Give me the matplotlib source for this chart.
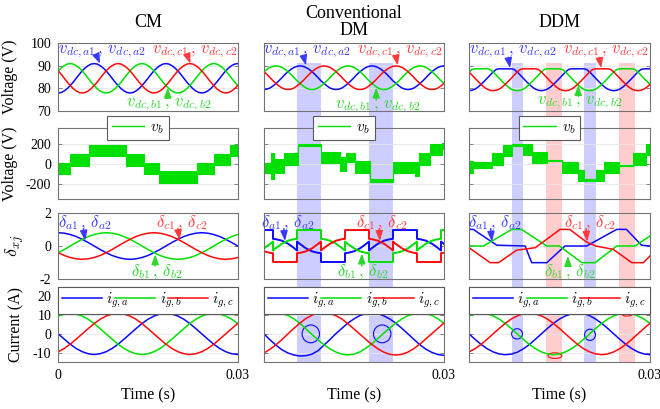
import matplotlib.pyplot as plt
import matplotlib.transforms as mtransforms
from matplotlib.lines import Line2D
from matplotlib.patches import Ellipse, Rectangle
import numpy as np

plt.rcParams['font.family'] = ['Liberation Serif', 'DejaVu Serif']
plt.rcParams['mathtext.fontset'] = 'cm'
plt.rcParams['axes.unicode_minus'] = False

BLUE, GREEN, RED = '#0a0aff', '#00e000', '#ff0a0a'
TBLUE, TGREEN, TRED = '#3a3aff', '#2bd92b', '#ff3b3b'
BAND = {'b': '#cdcdff', 'r': '#ffcdcd'}

# sample times in ms
t_half = np.linspace(0, 30, 61)
t_one = np.linspace(0, 30, 31)

# ---- dc-link capacitor voltages (V), 0.5 ms samples ----
cm_vdc_a = [78.0, 78.2, 78.9, 79.9, 81.3, 82.8, 84.5, 86.2, 87.8, 89.1, 90.1, 90.8, 91.0, 90.8, 90.1, 89.1, 87.8, 86.2, 84.5, 82.8, 81.3, 79.9, 78.9, 78.2,
            78.0, 78.2, 78.9, 79.9, 81.3, 82.8, 84.5, 86.2, 87.8, 89.1, 90.1, 90.8, 91.0, 90.8, 90.1, 89.1, 87.8, 86.2, 84.5, 82.8, 81.3, 79.9, 78.9, 78.2,
            78.0, 78.2, 78.9, 79.9, 81.3, 82.8, 84.5, 86.2, 87.8, 89.1, 90.1, 90.8, 91.0]
cm_vdc_b = [87.8, 89.1, 90.1, 90.8, 91.0, 90.8, 90.1, 89.1, 87.8, 86.2, 84.5, 82.8, 81.3, 79.9, 78.9, 78.2, 78.0, 78.2, 78.9, 79.9, 81.3, 82.8, 84.5, 86.2,
            87.8, 89.1, 90.1, 90.8, 91.0, 90.8, 90.1, 89.1, 87.8, 86.2, 84.5, 82.8, 81.3, 79.9, 78.9, 78.2, 78.0, 78.2, 78.9, 79.9, 81.3, 82.8, 84.5, 86.2,
            87.8, 89.1, 90.1, 90.8, 91.0, 90.8, 90.1, 89.1, 87.8, 86.2, 84.5, 82.8, 81.3]
cm_vdc_c = [87.8, 86.2, 84.5, 82.8, 81.3, 79.9, 78.9, 78.2, 78.0, 78.2, 78.9, 79.9, 81.3, 82.8, 84.5, 86.2, 87.8, 89.1, 90.1, 90.8, 91.0, 90.8, 90.1, 89.1,
            87.8, 86.2, 84.5, 82.8, 81.3, 79.9, 78.9, 78.2, 78.0, 78.2, 78.9, 79.9, 81.3, 82.8, 84.5, 86.2, 87.8, 89.1, 90.1, 90.8, 91.0, 90.8, 90.1, 89.1,
            87.8, 86.2, 84.5, 82.8, 81.3, 79.9, 78.9, 78.2, 78.0, 78.2, 78.9, 79.9, 81.3]

dm_vdc_a = [79.5, 79.7, 80.2, 81.1, 82.2, 83.4, 84.8, 86.2, 87.4, 88.5, 89.3, 89.8, 90.0, 89.8, 89.3, 88.5, 87.4, 86.2, 84.8, 83.4, 82.2, 81.1, 80.2, 79.7,
            79.5, 79.7, 80.2, 81.1, 82.2, 83.4, 84.8, 86.2, 87.4, 88.5, 89.3, 89.8, 90.0, 89.8, 89.3, 88.5, 87.4, 86.2, 84.8, 83.4, 82.2, 81.1, 80.2, 79.7,
            79.5, 79.7, 80.2, 81.1, 82.2, 83.4, 84.8, 86.2, 87.4, 88.5, 89.3, 89.8, 90.0]
dm_vdc_b = [87.4, 88.5, 89.3, 89.8, 90.0, 89.8, 89.3, 88.5, 87.4, 86.2, 84.8, 83.4, 82.2, 81.1, 80.2, 79.7, 79.5, 79.7, 80.2, 81.1, 82.2, 83.4, 84.8, 86.2,
            87.4, 88.5, 89.3, 89.8, 90.0, 89.8, 89.3, 88.5, 87.4, 86.2, 84.8, 83.4, 82.2, 81.1, 80.2, 79.7, 79.5, 79.7, 80.2, 81.1, 82.2, 83.4, 84.8, 86.2,
            87.4, 88.5, 89.3, 89.8, 90.0, 89.8, 89.3, 88.5, 87.4, 86.2, 84.8, 83.4, 82.2]
dm_vdc_c = [87.4, 86.2, 84.8, 83.4, 82.2, 81.1, 80.2, 79.7, 79.5, 79.7, 80.2, 81.1, 82.2, 83.4, 84.8, 86.2, 87.4, 88.5, 89.3, 89.8, 90.0, 89.8, 89.3, 88.5,
            87.4, 86.2, 84.8, 83.4, 82.2, 81.1, 80.2, 79.7, 79.5, 79.7, 80.2, 81.1, 82.2, 83.4, 84.8, 86.2, 87.4, 88.5, 89.3, 89.8, 90.0, 89.8, 89.3, 88.5,
            87.4, 86.2, 84.8, 83.4, 82.2, 81.1, 80.2, 79.7, 79.5, 79.7, 80.2, 81.1, 82.2]

ddm_vdc_a = [79.0, 79.2, 79.7, 80.6, 81.8, 83.1, 84.5, 85.9, 87.3, 88.4, 88.7, 88.7, 88.7, 88.7, 88.7, 88.4, 87.3, 85.9, 84.5, 83.1, 81.8, 80.6, 79.7, 79.2,
             79.0, 79.2, 79.7, 80.6, 81.8, 83.1, 84.5, 85.9, 87.3, 88.4, 88.7, 88.7, 88.7, 88.7, 88.7, 88.4, 87.3, 85.9, 84.5, 83.1, 81.8, 80.6, 79.7, 79.2,
             79.0, 79.2, 79.7, 80.6, 81.8, 83.1, 84.5, 85.9, 87.3, 88.4, 88.7, 88.7, 88.7]
ddm_vdc_b = [87.3, 88.4, 88.7, 88.7, 88.7, 88.7, 88.7, 88.4, 87.3, 85.9, 84.5, 83.1, 81.8, 80.6, 79.7, 79.2, 79.0, 79.2, 79.7, 80.6, 81.8, 83.1, 84.5, 85.9,
             87.3, 88.4, 88.7, 88.7, 88.7, 88.7, 88.7, 88.4, 87.3, 85.9, 84.5, 83.1, 81.8, 80.6, 79.7, 79.2, 79.0, 79.2, 79.7, 80.6, 81.8, 83.1, 84.5, 85.9,
             87.3, 88.4, 88.7, 88.7, 88.7, 88.7, 88.7, 88.4, 87.3, 85.9, 84.5, 83.1, 81.8]
ddm_vdc_c = [87.3, 85.9, 84.5, 83.1, 81.8, 80.6, 79.7, 79.2, 79.0, 79.2, 79.7, 80.6, 81.8, 83.1, 84.5, 85.9, 87.3, 88.4, 88.7, 88.7, 88.7, 88.7, 88.7, 88.4,
             87.3, 85.9, 84.5, 83.1, 81.8, 80.6, 79.7, 79.2, 79.0, 79.2, 79.7, 80.6, 81.8, 83.1, 84.5, 85.9, 87.3, 88.4, 88.7, 88.7, 88.7, 88.7, 88.7, 88.4,
             87.3, 85.9, 84.5, 83.1, 81.8, 80.6, 79.7, 79.2, 79.0, 79.2, 79.7, 80.6, 81.8]

# ---- bus voltage v_b: switching band between two levels (start ms, low V, high V) ----
cm_vb_t = [0, 2.0, 5.2, 11.3, 14.3, 16.8, 23.2, 26.0, 28.8]
cm_vb_lo = [-105, -20, 75, -20, -105, -190, -105, -15, 80]
cm_vb_hi = [5, 100, 185, 100, 10, -75, 5, 100, 190]

dm_vb_t = [0, 1.1, 1.7, 3.3, 5.65, 9.5, 12.7, 13.7, 15.2, 17.6, 21.5, 25.2, 25.8, 27.7, 29.6]
dm_vb_lo = [-95, -150, -90, -10, 172, 5, -75, 20, -90, -178, -90, -120, -10, 90, 150]
dm_vb_hi = [10, 110, 50, 110, 200, 115, 70, 105, 25, -152, 15, 15, 110, 200, 210]

ddm_vb_t = [0, 0.7, 3.8, 5.7, 7.1, 9.0, 10.4, 12.9, 15.4, 18.1, 19.0, 21.0, 22.3, 24.8, 27.2, 29.4]
ddm_vb_lo = [-90, -45, -10, 75, 175, 90, 5, 25, -90, -175, -170, -175, -90, -22, -10, 90]
ddm_vb_hi = [25, 15, 110, 190, 200, 200, 115, 40, 15, -60, -152, -60, 15, -10, 110, 200]

# ---- duty ratios delta_xj ----
cm_d_a = [0.80, 0.77, 0.69, 0.57, 0.40, 0.21, 0.00, -0.21, -0.40, -0.57, -0.69, -0.77, -0.80, -0.77, -0.69, -0.57,
          -0.40, -0.21, 0.00, 0.21, 0.40, 0.57, 0.69, 0.77, 0.80, 0.77, 0.69, 0.57, 0.40, 0.21, 0.00]
cm_d_b = [-0.40, -0.21, 0.00, 0.21, 0.40, 0.57, 0.69, 0.77, 0.80, 0.77, 0.69, 0.57, 0.40, 0.21, 0.00, -0.21,
          -0.40, -0.57, -0.69, -0.77, -0.80, -0.77, -0.69, -0.57, -0.40, -0.21, 0.00, 0.21, 0.40, 0.57, 0.69]
cm_d_c = [-0.40, -0.57, -0.69, -0.77, -0.80, -0.77, -0.69, -0.57, -0.40, -0.21, 0.00, 0.21, 0.40, 0.57, 0.69, 0.77,
          0.80, 0.77, 0.69, 0.57, 0.40, 0.21, 0.00, -0.21, -0.40, -0.57, -0.69, -0.77, -0.80, -0.77, -0.69]

dm_d_t = [0, 1, 1.5, 1.5, 2, 3, 4, 5, 5.5, 5.5, 6, 7, 8, 9, 9.5, 9.5, 10, 11, 12, 13, 13.5, 13.5, 14, 15,
          16, 17, 17.5, 17.5, 18, 19, 20, 21, 21.5, 21.5, 22, 23, 24, 25, 25.5, 25.5, 26, 27, 28, 29, 29.5, 29.5, 30]
dm_d_a = [0.96, 0.96, 0.96, 0.43, 0.41, 0.32, 0.14, -0.12, -0.27, 0.27, 0.12, -0.14, -0.32, -0.41, -0.43, -0.96,
          -0.96, -0.96, -0.96, -0.96, -0.96, -0.43, -0.41, -0.32, -0.14, 0.12, 0.27, -0.27, -0.12, 0.14, 0.32, 0.41,
          0.43, 0.96, 0.96, 0.96, 0.96, 0.96, 0.96, 0.43, 0.41, 0.32, 0.14, -0.12, -0.27, 0.27, 0.12]
dm_d_b = [-0.14, 0.12, 0.27, -0.27, -0.12, 0.14, 0.32, 0.41, 0.43, 0.96, 0.96, 0.96, 0.96, 0.96, 0.96, 0.43,
          0.41, 0.32, 0.14, -0.12, -0.27, 0.27, 0.12, -0.14, -0.32, -0.41, -0.43, -0.96, -0.96, -0.96, -0.96, -0.96,
          -0.96, -0.43, -0.41, -0.32, -0.14, 0.12, 0.27, -0.27, -0.12, 0.14, 0.32, 0.41, 0.43, 0.96, 0.96]
dm_d_c = [-0.32, -0.41, -0.43, -0.96, -0.96, -0.96, -0.96, -0.96, -0.96, -0.43, -0.41, -0.32, -0.14, 0.12, 0.27, -0.27,
          -0.12, 0.14, 0.32, 0.41, 0.43, 0.96, 0.96, 0.96, 0.96, 0.96, 0.96, 0.43, 0.41, 0.32, 0.14, -0.12,
          -0.27, 0.27, 0.12, -0.14, -0.32, -0.41, -0.43, -0.96, -0.96, -0.96, -0.96, -0.96, -0.96, -0.43, -0.41]

ddm_t_a = [0, 0.7, 4.6, 9.3, 10.4, 12.9, 15.9, 19.5, 24.5, 26.1, 28.6, 30]
ddm_d_a = [1.0, 1.0, 0.05, 0.0, -1.0, -1.0, 0.0, 0.0, 1.0, 1.0, 0.05, 0.0]
ddm_t_b = [0, 2.4, 7.1, 8.7, 12.9, 15.0, 18.7, 20.9, 24.5, 27.5, 30]
ddm_d_b = [0.0, 0.0, 1.0, 1.0, 0.0, 0.0, -1.0, -1.0, 0.0, 0.0, 0.6]
ddm_t_c = [0, 3.5, 4.9, 7.9, 11.0, 15.1, 16.7, 19.4, 21.0, 23.9, 27.0, 28.9, 30]
ddm_d_c = [-0.1, -1.0, -1.0, -0.25, -0.1, 1.0, 1.0, 0.26, 0.0, -0.2, -1.0, -1.0, -0.6]

# ---- grid currents (A), 1 ms samples ----
cm_ig_a = [0, -2.8, -5.5, -7.8, -9.5, -10.6, -11.0, -10.6, -9.5, -7.8, -5.5, -2.8, 0, 2.8, 5.5, 7.8,
           9.5, 10.6, 11.0, 10.6, 9.5, 7.8, 5.5, 2.8, 0, -2.8, -5.5, -7.8, -9.5, -10.6, -11.0]
cm_ig_b = [9.5, 10.6, 11.0, 10.6, 9.5, 7.8, 5.5, 2.8, 0, -2.8, -5.5, -7.8, -9.5, -10.6, -11.0, -10.6,
           -9.5, -7.8, -5.5, -2.8, 0, 2.8, 5.5, 7.8, 9.5, 10.6, 11.0, 10.6, 9.5, 7.8, 5.5]
cm_ig_c = [-9.5, -7.8, -5.5, -2.8, 0, 2.8, 5.5, 7.8, 9.5, 10.6, 11.0, 10.6, 9.5, 7.8, 5.5, 2.8,
           0, -2.8, -5.5, -7.8, -9.5, -10.6, -11.0, -10.6, -9.5, -7.8, -5.5, -2.8, 0, 2.8, 5.5]

dm_ig_a = [0, -3.2, -6.0, -8.5, -10.2, -11.3, -11.8, -11.6, -10.8, -9.0, -6.0, -3.0, 0.2, 3.0, 5.8, 8.0,
           9.8, 10.8, 11.1, 10.8, 9.6, 7.9, 5.6, 2.9, 0, -3.0, -5.8, -8.2, -9.9, -11.0, -11.5]
dm_ig_b = [10.2, 11.0, 11.2, 10.8, 9.8, 8.0, 5.6, 2.6, -0.3, -3.2, -5.8, -8.0, -9.7, -10.8, -11.2, -10.8,
           -9.6, -7.6, -5.2, -2.4, 0.5, 3.2, 5.8, 8.0, 9.7, 10.8, 11.2, 10.9, 9.8, 8.0, 5.6]
dm_ig_c = [-10.2, -8.2, -5.8, -3.0, 0, 3.0, 5.8, 8.2, 10.0, 11.0, 11.3, 10.9, 9.7, 7.9, 5.4, 2.6,
           -0.2, -3.0, -5.7, -8.0, -9.8, -10.9, -11.3, -10.9, -9.7, -7.8, -5.4, -2.6, 0.2, 3.0, 5.8]

ddm_ig_a = [0, -2.9, -5.6, -7.9, -9.6, -10.7, -11.1, -10.8, -9.8, -8.0, -5.7, -2.9, 0, 2.9, 5.6, 7.9,
            9.6, 10.7, 11.1, 10.8, 9.7, 7.9, 5.6, 2.9, 0, -2.9, -5.6, -7.9, -9.6, -10.7, -11.1]
ddm_ig_b = [9.6, 10.7, 11.1, 10.7, 9.6, 7.9, 5.6, 2.9, 0, -2.9, -5.6, -7.9, -9.6, -10.7, -11.1, -10.7,
            -9.6, -7.9, -5.6, -2.9, 0, 2.9, 5.6, 7.9, 9.6, 10.7, 11.1, 10.7, 9.6, 7.9, 5.6]
ddm_ig_c = [-9.6, -7.9, -5.6, -2.9, 0, 2.9, 5.6, 7.9, 9.6, 10.7, 11.1, 10.7, 9.6, 7.9, 5.6, 2.9,
            0, -2.9, -5.6, -7.9, -9.6, -10.7, -11.1, -10.7, -9.6, -7.9, -5.6, -2.9, 0, 2.9, 5.6]

# highlighted intervals (ms) and marked current regions (centre ms, centre A, width ms, height A)
dm_bands = [(5.5, 9.5, 'b'), (17.5, 21.5, 'b')]
ddm_bands = [(7.1, 8.95, 'b'), (12.76, 15.4, 'r'), (19.05, 21.05, 'b'), (24.9, 27.5, 'r')]
dm_marks = [(7.8, 0, 2.9, 9.5, BLUE), (19.7, 0, 2.9, 9.5, BLUE)]
ddm_marks = [(7.96, 0, 1.8, 5.5, BLUE), (20.06, -0.5, 1.8, 6, BLUE),
             (14.25, -11.6, 2.3, 3.0, RED), (26.2, 11.0, 2.0, 3.0, RED)]

titles = ['CM', 'Conventional\nDM', 'DDM']

vdc = [(cm_vdc_a, cm_vdc_b, cm_vdc_c), (dm_vdc_a, dm_vdc_b, dm_vdc_c), (ddm_vdc_a, ddm_vdc_b, ddm_vdc_c)]
vb = [(cm_vb_t, cm_vb_lo, cm_vb_hi), (dm_vb_t, dm_vb_lo, dm_vb_hi), (ddm_vb_t, ddm_vb_lo, ddm_vb_hi)]
duty = [((t_one, cm_d_a), (t_one, cm_d_b), (t_one, cm_d_c)),
        ((dm_d_t, dm_d_a), (dm_d_t, dm_d_b), (dm_d_t, dm_d_c)),
        ((ddm_t_a, ddm_d_a), (ddm_t_b, ddm_d_b), (ddm_t_c, ddm_d_c))]
igrid = [(cm_ig_a, cm_ig_b, cm_ig_c), (dm_ig_a, dm_ig_b, dm_ig_c), (ddm_ig_a, ddm_ig_b, ddm_ig_c)]
duty_lw = [1.1, 1.4, 1.1]

# label text positions (axes fraction) and arrows (tail, tip) in (ms, value)
v_notes = [
    [((0.244, 0.871), (6.4, 94.6), (7.0, 91.0)), ((0.617, 0.089), (18.3, 75.6), (18.3, 80.3)), ((0.762, 0.871), (21.6, 94.6), (22.1, 91.0))],
    [((0.239, 0.871), (6.6, 94.3), (7.0, 90.2)), ((0.633, 0.059), (18.7, 74.8), (18.7, 80.4)), ((0.756, 0.871), (22.0, 94.3), (22.3, 90.2))],
    [((0.243, 0.871), (6.5, 93.8), (6.8, 89.0)), ((0.613, 0.118), (18.1, 76.5), (18.1, 81.5)), ((0.757, 0.871), (21.6, 93.8), (21.9, 89.0))],
]
d_notes = [
    [((0.149, 0.86), (4.2, 1.05), (4.5, 0.32)), ((0.55, 0.11), (16.2, -1.2), (16.2, -0.5)), ((0.69, 0.86), (20.0, 1.05), (20.3, 0.36))],
    [((0.133, 0.86), (3.3, 1.05), (3.5, 0.3)), ((0.55, 0.11), (16.3, -1.2), (16.3, -0.45)), ((0.656, 0.86), (19.2, 1.05), (19.3, 0.3))],
    [((0.144, 0.86), (3.6, 1.05), (3.8, 0.26)), ((0.558, 0.11), (16.4, -1.25), (16.4, -0.6)), ((0.668, 0.86), (19.4, 1.05), (19.6, 0.26))],
]
v_labels = [r'$v_{dc,a1}\,,\,v_{dc,a2}$', r'$v_{dc,b1}\,,\,v_{dc,b2}$', r'$v_{dc,c1}\,,\,v_{dc,c2}$']
d_labels = [r'$\delta_{a1}\,,\,\delta_{a2}$', r'$\delta_{b1}\,,\,\delta_{b2}$', r'$\delta_{c1}\,,\,\delta_{c2}$']

colors = [BLUE, GREEN, RED]
tcolors = [TBLUE, TGREEN, TRED]

fig = plt.figure(figsize=(6.6, 4.09), dpi=100)
col_left = [0.0883, 0.4, 0.7106]
col_w = [0.2718, 0.2727, 0.2742]
row_bottom = [0.7286, 0.5134, 0.3171, 0.1149]
row_h = [0.1655, 0.1736, 0.1628, 0.1834]
axes = [[fig.add_axes([col_left[c], row_bottom[r], col_w[c], row_h[r]]) for c in range(3)] for r in range(4)]


def ms(x):
    return np.asarray(x, dtype=float) * 1e-3


def style(ax, r, c):
    ax.set_facecolor('none')
    ax.set_xlim(0, 0.03)
    ax.set_xticks([0, 0.03])
    for s in ax.spines.values():
        s.set_color('0.45')
        s.set_linewidth(0.8)
    ax.tick_params(direction='in', length=3, width=0.6, color='0.45', top=True, right=True,
                   labelsize=10, pad=5, labelleft=(c == 0), labelbottom=(r == 3))
    ax.grid(axis='y', color='0.9', lw=0.6)
    ax.set_axisbelow(True)


def note(ax, text, color, pos, tail, tip):
    ax.text(pos[0], pos[1], text, color=color, fontsize=12, ha='center', va='center',
            transform=ax.transAxes)
    ax.annotate('', xy=(tip[0] * 1e-3, tip[1]), xytext=(tail[0] * 1e-3, tail[1]),
                arrowprops=dict(arrowstyle='-|>,head_length=0.6,head_width=0.22', color=color, lw=1.0,
                                shrinkA=0, shrinkB=0))


for c in range(3):
    # row 0: capacitor voltages
    ax = axes[0][c]
    style(ax, 0, c)
    for y, col in zip(vdc[c], colors):
        ax.plot(ms(t_half), y, color=col, lw=1.1)
    ax.set_ylim(70, 100)
    ax.set_yticks([70, 80, 90, 100])
    for lab, tc, (pos, tail, tip) in zip(v_labels, tcolors, v_notes[c]):
        note(ax, lab, tc, pos, tail, tip)

    # row 1: bus voltage
    ax = axes[1][c]
    style(ax, 1, c)
    tt, lo, hi = vb[c]
    ax.fill_between(ms(tt + [30]), lo + [lo[-1]], hi + [hi[-1]], step='post',
                    facecolor=GREEN, edgecolor=GREEN, lw=0.8)
    ax.set_ylim(-350, 355)
    ax.set_yticks([-200, 0, 200])
    leg = ax.legend(handles=[Line2D([], [], color=GREEN, lw=1.0)], labels=[r'$v_b$'], loc='center',
                    bbox_to_anchor=(0.445, 1.0), handlelength=2.1, fontsize=11, fancybox=False,
                    edgecolor='0.35', framealpha=1, borderpad=0.3, handletextpad=0.4)
    leg.get_frame().set_linewidth(0.8)

    # row 2: duty ratios
    ax = axes[2][c]
    style(ax, 2, c)
    for (tt, y), col in zip(duty[c], colors):
        ax.plot(ms(tt), y, color=col, lw=duty_lw[c])
    ax.set_ylim(-2, 2)
    ax.set_yticks([-2, 0, 2])
    for lab, tc, (pos, tail, tip) in zip(d_labels, tcolors, d_notes[c]):
        note(ax, lab, tc, pos, tail, tip)

    # row 3: grid currents
    ax = axes[3][c]
    style(ax, 3, c)
    lines = []
    for y, col in zip(igrid[c], colors):
        lines += ax.plot(ms(t_one), y, color=col, lw=1.1)
    ax.set_ylim(-15, 25)
    ax.set_yticks([-10, 0, 10, 20])
    leg = ax.legend(lines, [r'$i_{g,a}$', r'$i_{g,b}$', r'$i_{g,c}$'], loc='upper left',
                    bbox_to_anchor=(0, 1, 1, 0), mode='expand', ncol=3, borderaxespad=0,
                    handlelength=2.6, handletextpad=0.3, columnspacing=0.6, fontsize=11,
                    fancybox=False, edgecolor='0.35', framealpha=1, borderpad=0.25)
    leg.get_frame().set_linewidth(0.8)
    ax.set_xlabel('Time (s)', fontsize=11.5, labelpad=4)
    if c == 0:
        ax.set_xticklabels(['0', '0.03'])
    else:
        ax.set_xticklabels(['', '0.03'])

    fig.text(col_left[c] + col_w[c] / 2, 0.946, titles[c], ha='center', va='center',
             fontsize=13, linespacing=1.05)

# marked current regions
for c, marks in ((1, dm_marks), (2, ddm_marks)):
    for x0, y0, w, h, col in marks:
        axes[3][c].add_patch(Ellipse((x0 * 1e-3, y0), w * 1e-3, h, fill=False, edgecolor=col, lw=0.8))

# highlighted intervals running through all rows
for c, bands in ((1, dm_bands), (2, ddm_bands)):
    trans = mtransforms.blended_transform_factory(axes[3][c].transData, fig.transFigure)
    for t0, t1, key in bands:
        fig.add_artist(Rectangle((t0 * 1e-3, 0.115), (t1 - t0) * 1e-3, 0.846 - 0.115, transform=trans,
                                 facecolor=BAND[key], edgecolor='none', zorder=-1))

ylabels = ['Voltage (V)', 'Voltage (V)', r'$\delta_{xj}$', 'Current (A)']
ylab_x = [-0.222, -0.222, -0.18, -0.19]
for r in range(4):
    ax = axes[r][0]
    ax.set_ylabel(ylabels[r], fontsize=13 if r == 2 else 11.5)
    ax.yaxis.set_label_coords(ylab_x[r], 0.5)

fig.savefig('out.png', dpi=100)
